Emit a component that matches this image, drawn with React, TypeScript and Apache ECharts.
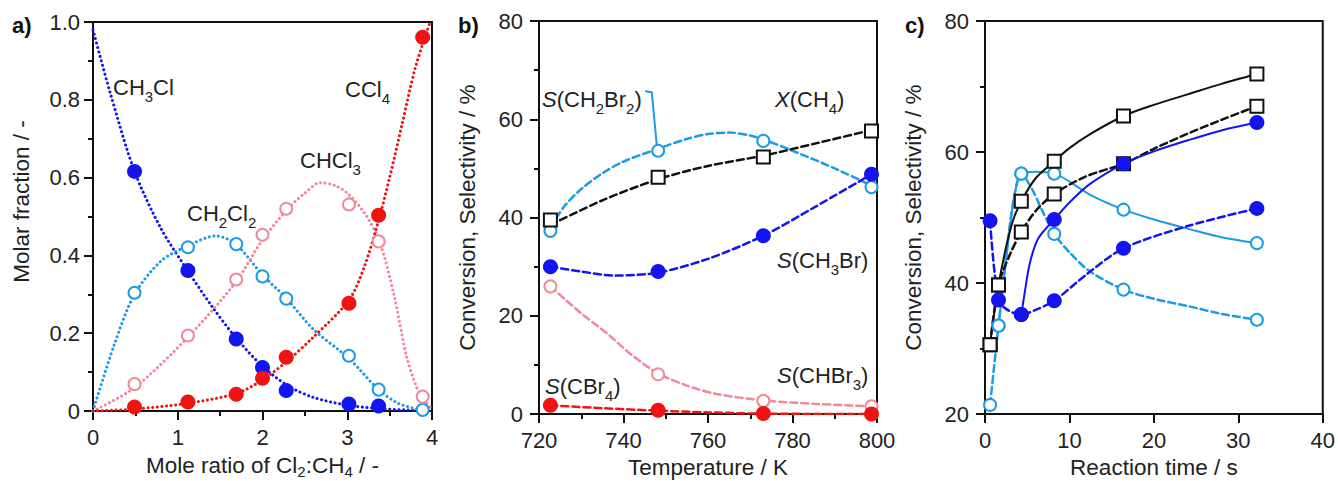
import React, { useEffect, useRef } from 'react';
import * as echarts from 'echarts';

const FONT = '"Liberation Sans", Arial, sans-serif';
const BLUE = '#1414ee';
const RED = '#ee1414';
const LIGHT = '#1e9be2';
const PINK = '#f08a9a';
const BLACK = '#111111';

// ---------- panel a: molar fraction vs Cl2:CH4 ratio ----------
const ratioX = [0.49, 1.12, 1.69, 2.0, 2.28, 3.02, 3.37, 3.89];
const ch3clFrac = [0.616, 0.361, 0.185, 0.112, 0.053, 0.018, 0.013, null];
const ch2cl2Frac = [0.304, 0.421, 0.429, 0.346, 0.289, 0.142, 0.055, 0.003];
const chcl3Frac = [0.069, 0.194, 0.338, 0.453, 0.52, 0.531, 0.436, 0.037];
const ccl4Frac = [0.01, 0.023, 0.043, 0.084, 0.138, 0.277, 0.503, 0.961];
// fitted curves
const ch3clFit = [[0, 0.98], [0.2, 0.82], [0.49, 0.616], [0.8, 0.47], [1.12, 0.36], [1.4, 0.27], [1.68, 0.19], [2.0, 0.115], [2.3, 0.065], [2.6, 0.035], [3.0, 0.015], [3.4, 0.006], [3.9, 0.001]];
const ch2cl2Fit = [[0, 0], [0.25, 0.17], [0.49, 0.3], [0.8, 0.385], [1.12, 0.425], [1.45, 0.45], [1.68, 0.43], [2.0, 0.35], [2.28, 0.29], [2.6, 0.21], [3.02, 0.135], [3.37, 0.055], [3.6, 0.02], [3.9, 0.0]];
const chcl3Fit = [[0, 0], [0.49, 0.06], [1.12, 0.19], [1.68, 0.33], [2.0, 0.44], [2.3, 0.52], [2.5, 0.56], [2.68, 0.587], [2.85, 0.58], [3.0, 0.56], [3.2, 0.51], [3.38, 0.436], [3.55, 0.3], [3.7, 0.14], [3.82, 0.06], [3.9, 0.03], [4.0, 0.005]];
const ccl4Fit = [[0, 0], [0.49, 0.005], [1.12, 0.02], [1.69, 0.045], [2.0, 0.08], [2.3, 0.13], [2.6, 0.19], [3.02, 0.285], [3.2, 0.37], [3.37, 0.49], [3.5, 0.6], [3.65, 0.74], [3.8, 0.88], [3.97, 0.995]];

// ---------- panel b: temperature ----------
const tempK = [722.7, 748.2, 773.1, 798.7];
const xCH4 = [39.5, 48.2, 52.3, 57.6];
const sCH2Br2 = [37.3, 53.6, 55.6, 46.2];
const sCH3Br = [30.0, 29.0, 36.3, 48.8];
const sCHBr3 = [26.0, 8.1, 2.7, 1.6];
const sCBr4 = [1.8, 0.8, 0.1, 0.0];
const xCH4Fit = [[722.7, 38.5], [735, 43.5], [748.2, 47.8], [760, 50.5], [773.1, 52.6], [786, 55.2], [798.7, 57.8]];
const sCH2Br2Fit = [[722.7, 38], [726, 42.3], [730, 45.8], [735, 49], [740, 51.4], [748.2, 54], [755, 56], [760, 57], [765, 57.3], [770, 56.7], [773.1, 55.9], [780, 53.6], [790, 50], [798.7, 46.5]];
const sCH3BrFit = [[722.7, 30], [730, 29], [738, 28.2], [748.2, 28.8], [760, 31.6], [773.1, 36.3], [785, 42], [798.7, 48.8]];
const sCHBr3Fit = [[722.7, 26], [730, 20.5], [736, 16.5], [742, 12], [748.2, 8.3], [755, 5.8], [762, 4.1], [773.1, 2.8], [785, 2.1], [798.7, 1.6]];
const sCBr4Fit = [[722.7, 1.8], [735, 1.2], [748.2, 0.7], [760, 0.35], [773.1, 0.1], [798.7, 0]];
const callout = [[745.3, 65.7], [746.7, 65.5], [747.9, 54.5]];

// ---------- panel c: reaction time ----------
const timeS = [0.6, 1.6, 4.3, 8.2, 16.4, 32.2];
const convSolid = [30.6, 39.7, 52.5, 58.6, 65.5, 71.9];
const convDashed = [30.6, 39.7, 47.8, 53.6, 58.2, 67.0];
const blueSolid = [null, null, 35.2, 49.7, 58.2, 64.5];
const blueDashed = [49.5, 37.4, 35.2, 37.3, 45.3, 51.4];
const lightSolid = [null, 33.5, 56.7, 56.7, 51.2, 46.1];
const lightDashed = [21.4, 33.5, 56.7, 47.5, 39.0, 34.4];
const convSolidFit = [[0.6, 30.6], [1.1, 35.5], [1.6, 39.7], [2.5, 45.5], [3.3, 49.5], [4.3, 52.5], [6, 56], [8.2, 58.6], [10, 60.6], [12.4, 62.7], [16.4, 65.5], [20, 67.2], [24, 68.8], [28, 70.4], [32.2, 71.9]];
const convDashedFit = [[0.6, 30.6], [1.6, 39.7], [3, 44.5], [4.3, 47.8], [6, 51], [8.2, 53.6], [12, 56.3], [16.4, 58.2], [20, 60.5], [24, 62.8], [28, 64.9], [32.2, 67.0]];
const blueSolidFit = [[4.3, 35.2], [4.7, 38.5], [5.3, 43], [6.3, 46.8], [8.2, 49.7], [10, 52.3], [12.4, 55.1], [16.4, 58.2], [20, 60.1], [24.3, 61.9], [28, 63.3], [32.2, 64.5]];
const blueDashedFit = [[0.6, 49.5], [1.6, 37.4], [2.8, 35.8], [4.3, 35.2], [6, 35.9], [8.2, 37.3], [12, 41.3], [16.4, 45.3], [24, 48.7], [32.2, 51.4]];
const lightSolidFit = [[1.6, 33.5], [2.2, 40], [2.9, 48], [3.5, 53.5], [4.3, 56.7], [6, 57], [8.2, 56.7], [10, 55.5], [12.4, 53.5], [16.4, 51.2], [20, 49.7], [24.3, 48.2], [28, 47], [32.2, 46.1]];
const lightDashedFit = [[0.6, 21.4], [1.1, 27.5], [1.6, 33.5], [2.5, 44], [3.3, 52], [4.3, 56.7], [5.5, 54.5], [6.8, 51], [8.2, 47.5], [10, 44.7], [12.4, 41.8], [16.4, 39], [20, 37.6], [24.3, 36.4], [28, 35.3], [32.2, 34.4]];

const zip = (xs: number[], ys: (number | null)[]) =>
  xs.map((x, i) => [x, ys[i]]).filter((p) => p[1] !== null);

const filled = (c: string) => ({ symbol: 'circle', symbolSize: 15, itemStyle: { color: c, opacity: 1 } });
const open = (c: string) => ({ symbol: 'circle', symbolSize: 12, itemStyle: { color: '#fff', borderColor: c, borderWidth: 2, opacity: 1 } });
const square = { symbol: 'rect', symbolSize: 13, itemStyle: { color: '#fff', borderColor: BLACK, borderWidth: 2, opacity: 1 } };

const TICK_FS = 22;
const NAME_FS = 22.5;

function axisCommon(extra: any) {
  return {
    axisLine: { lineStyle: { color: BLACK, width: 2 } },
    axisTick: { length: 9, lineStyle: { color: BLACK, width: 2 } },
    minorTick: { show: true, splitNumber: 2, length: 5, lineStyle: { color: BLACK, width: 2 } },
    splitLine: { show: false },
    nameLocation: 'middle',
    ...extra,
    nameTextStyle: {
      fontSize: NAME_FS, color: '#222', fontFamily: FONT,
      rich: {
        n: { fontSize: NAME_FS, fontFamily: FONT, color: '#222' },
        s: { fontSize: 15, fontFamily: FONT, color: '#222', padding: [12, 0, 0, 0] },
      },
      ...(extra.nameTextStyle || {}),
    },
    axisLabel: { fontSize: TICK_FS, color: '#222', fontFamily: FONT, ...(extra.axisLabel || {}) },
  };
}

const richLabel = {
  n: { fontSize: 22, fontFamily: FONT, fill: '#222', verticalAlign: 'top', lineHeight: 23 },
  i: { fontSize: 22, fontFamily: FONT, fill: '#222', fontStyle: 'italic', verticalAlign: 'top', lineHeight: 23 },
  s: { fontSize: 15, fontFamily: FONT, fill: '#222', verticalAlign: 'top', lineHeight: 15, padding: [12, 0, 0, 0] },
};

function txt(x: number, y: number, text: string) {
  return {
    type: 'text', x, y,
    style: { text, rich: richLabel, font: `22px ${FONT}`, fill: '#222', verticalAlign: 'middle', align: 'left' },
  };
}

function lineSeries(x: number, y: number, data: any, color: string, type: any, width = 2.5, extra: any = {}) {
  return {
    type: 'line', xAxisIndex: x, yAxisIndex: y, data, showSymbol: false, symbol: 'none',
    lineStyle: { color, width, type, cap: 'round' }, z: 2, silent: true, smooth: 0.3, ...extra,
  };
}
function scatter(x: number, y: number, data: any, style: any) {
  return { type: 'scatter', xAxisIndex: x, yAxisIndex: y, data, z: 4, ...style };
}

export default function App() {
  const ref = useRef<HTMLDivElement>(null);
  useEffect(() => {
    if (!ref.current) return;
    const chart = echarts.init(ref.current, undefined, { renderer: 'svg' });
    const DOT: any = [0.1, 4.5];
    const DASH: any = [7, 4];
    const option: any = {
      animation: false,
      backgroundColor: '#fff',
      textStyle: { fontFamily: FONT },
      grid: [
        { left: 93, top: 22, width: 339, height: 399, show: true, borderColor: BLACK, borderWidth: 2 },
        { left: 539, top: 21, width: 338, height: 400, show: true, borderColor: BLACK, borderWidth: 2 },
        { left: 985, top: 21, width: 338, height: 399, show: true, borderColor: BLACK, borderWidth: 2 },
      ],
      xAxis: [
        axisCommon({ gridIndex: 0, type: 'value', min: 0, max: 4, interval: 1, name: '{n|Mole ratio of Cl}{s|2}{n|:CH}{s|4}{n| / -}', nameGap: 41, axisLabel: { margin: 15 } }),
        axisCommon({ gridIndex: 1, type: 'value', min: 720, max: 800, interval: 20, name: 'Temperature / K', nameGap: 41, axisLabel: { margin: 15 } }),
        axisCommon({ gridIndex: 2, type: 'value', min: 0, max: 40, interval: 10, name: 'Reaction time / s', nameGap: 41, axisLabel: { margin: 15 }, minorTick: { show: false } }),
      ],
      yAxis: [
        axisCommon({ gridIndex: 0, type: 'value', min: 0, max: 1, interval: 0.2, name: 'Molar fraction / -', nameGap: 60, nameTextStyle: { padding: [0, 0, 0, 30] }, axisLabel: { margin: 13, formatter: (v: number) => (v === 0 ? '0' : v.toFixed(1)) } }),
        axisCommon({ gridIndex: 1, type: 'value', min: 0, max: 80, interval: 20, name: 'Conversion, Selectivity / %', nameGap: 60, axisLabel: { margin: 16 } }),
        axisCommon({ gridIndex: 2, type: 'value', min: 20, max: 80, interval: 20, name: 'Conversion, Selectivity / %', nameGap: 60, axisLabel: { margin: 16 } }),
      ],
      series: [
        // panel a curves
        lineSeries(0, 0, ch3clFit, BLUE, DOT, 3),
        lineSeries(0, 0, ch2cl2Fit, LIGHT, DOT, 3),
        lineSeries(0, 0, chcl3Fit, PINK, DOT, 3),
        lineSeries(0, 0, ccl4Fit, RED, DOT, 3),
        scatter(0, 0, zip(ratioX, ch2cl2Frac), open(LIGHT)),
        scatter(0, 0, zip(ratioX, chcl3Frac), open(PINK)),
        scatter(0, 0, zip(ratioX, ch3clFrac), filled(BLUE)),
        scatter(0, 0, zip(ratioX, ccl4Frac), filled(RED)),
        // panel b curves
        lineSeries(1, 1, sCH2Br2Fit, LIGHT, DASH, 2.5),
        lineSeries(1, 1, xCH4Fit, BLACK, DASH, 2.5),
        lineSeries(1, 1, sCH3BrFit, BLUE, DASH, 2.5),
        lineSeries(1, 1, sCHBr3Fit, PINK, DASH, 2.5),
        lineSeries(1, 1, sCBr4Fit, RED, DASH, 2.5),
        lineSeries(1, 1, callout, LIGHT, 'solid', 2, { smooth: false }),
        scatter(1, 1, zip(tempK, sCH2Br2), open(LIGHT)),
        scatter(1, 1, zip(tempK, sCHBr3), open(PINK)),
        scatter(1, 1, zip(tempK, xCH4), square),
        scatter(1, 1, zip(tempK, sCH3Br), filled(BLUE)),
        scatter(1, 1, zip(tempK, sCBr4), filled(RED)),
        // panel c curves
        lineSeries(2, 2, lightSolidFit, LIGHT, 'solid', 2),
        lineSeries(2, 2, lightDashedFit, LIGHT, DASH, 2.5),
        lineSeries(2, 2, convSolidFit, BLACK, 'solid', 2),
        lineSeries(2, 2, convDashedFit, BLACK, DASH, 2.5),
        lineSeries(2, 2, blueSolidFit, BLUE, 'solid', 2),
        lineSeries(2, 2, blueDashedFit, BLUE, DASH, 2.5),
        scatter(2, 2, zip(timeS, lightSolid), open(LIGHT)),
        scatter(2, 2, zip(timeS, lightDashed), open(LIGHT)),
        scatter(2, 2, zip(timeS, convSolid), square),
        scatter(2, 2, zip(timeS, convDashed), square),
        scatter(2, 2, zip(timeS, blueSolid), filled(BLUE)),
        scatter(2, 2, zip(timeS, blueDashed), filled(BLUE)),
      ],
      graphic: [
        { type: 'text', x: 12, y: 25, style: { text: 'a)', font: `bold 22px ${FONT}`, fill: '#111', verticalAlign: 'middle' } },
        { type: 'text', x: 458, y: 25, style: { text: 'b)', font: `bold 22px ${FONT}`, fill: '#111', verticalAlign: 'middle' } },
        { type: 'text', x: 905, y: 25, style: { text: 'c)', font: `bold 22px ${FONT}`, fill: '#111', verticalAlign: 'middle' } },
        txt(113, 88, '{n|CH}{s|3}{n|Cl}'),
        txt(345, 90, '{n|CCl}{s|4}'),
        txt(300, 161, '{n|CHCl}{s|3}'),
        txt(187, 214, '{n|CH}{s|2}{n|Cl}{s|2}'),
        txt(542, 100, '{i|S}{n|(CH}{s|2}{n|Br}{s|2}{n|)}'),
        txt(775, 100, '{i|X}{n|(CH}{s|4}{n|)}'),
        txt(777, 261, '{i|S}{n|(CH}{s|3}{n|Br)}'),
        txt(777, 376, '{i|S}{n|(CHBr}{s|3}{n|)}'),
        txt(545, 387, '{i|S}{n|(CBr}{s|4}{n|)}'),
      ],
    };
    chart.setOption(option);
    return () => chart.dispose();
  }, []);
  return <div ref={ref} style={{ position: 'fixed', left: 0, top: 0, width: 1338, height: 484 }} />;
}
